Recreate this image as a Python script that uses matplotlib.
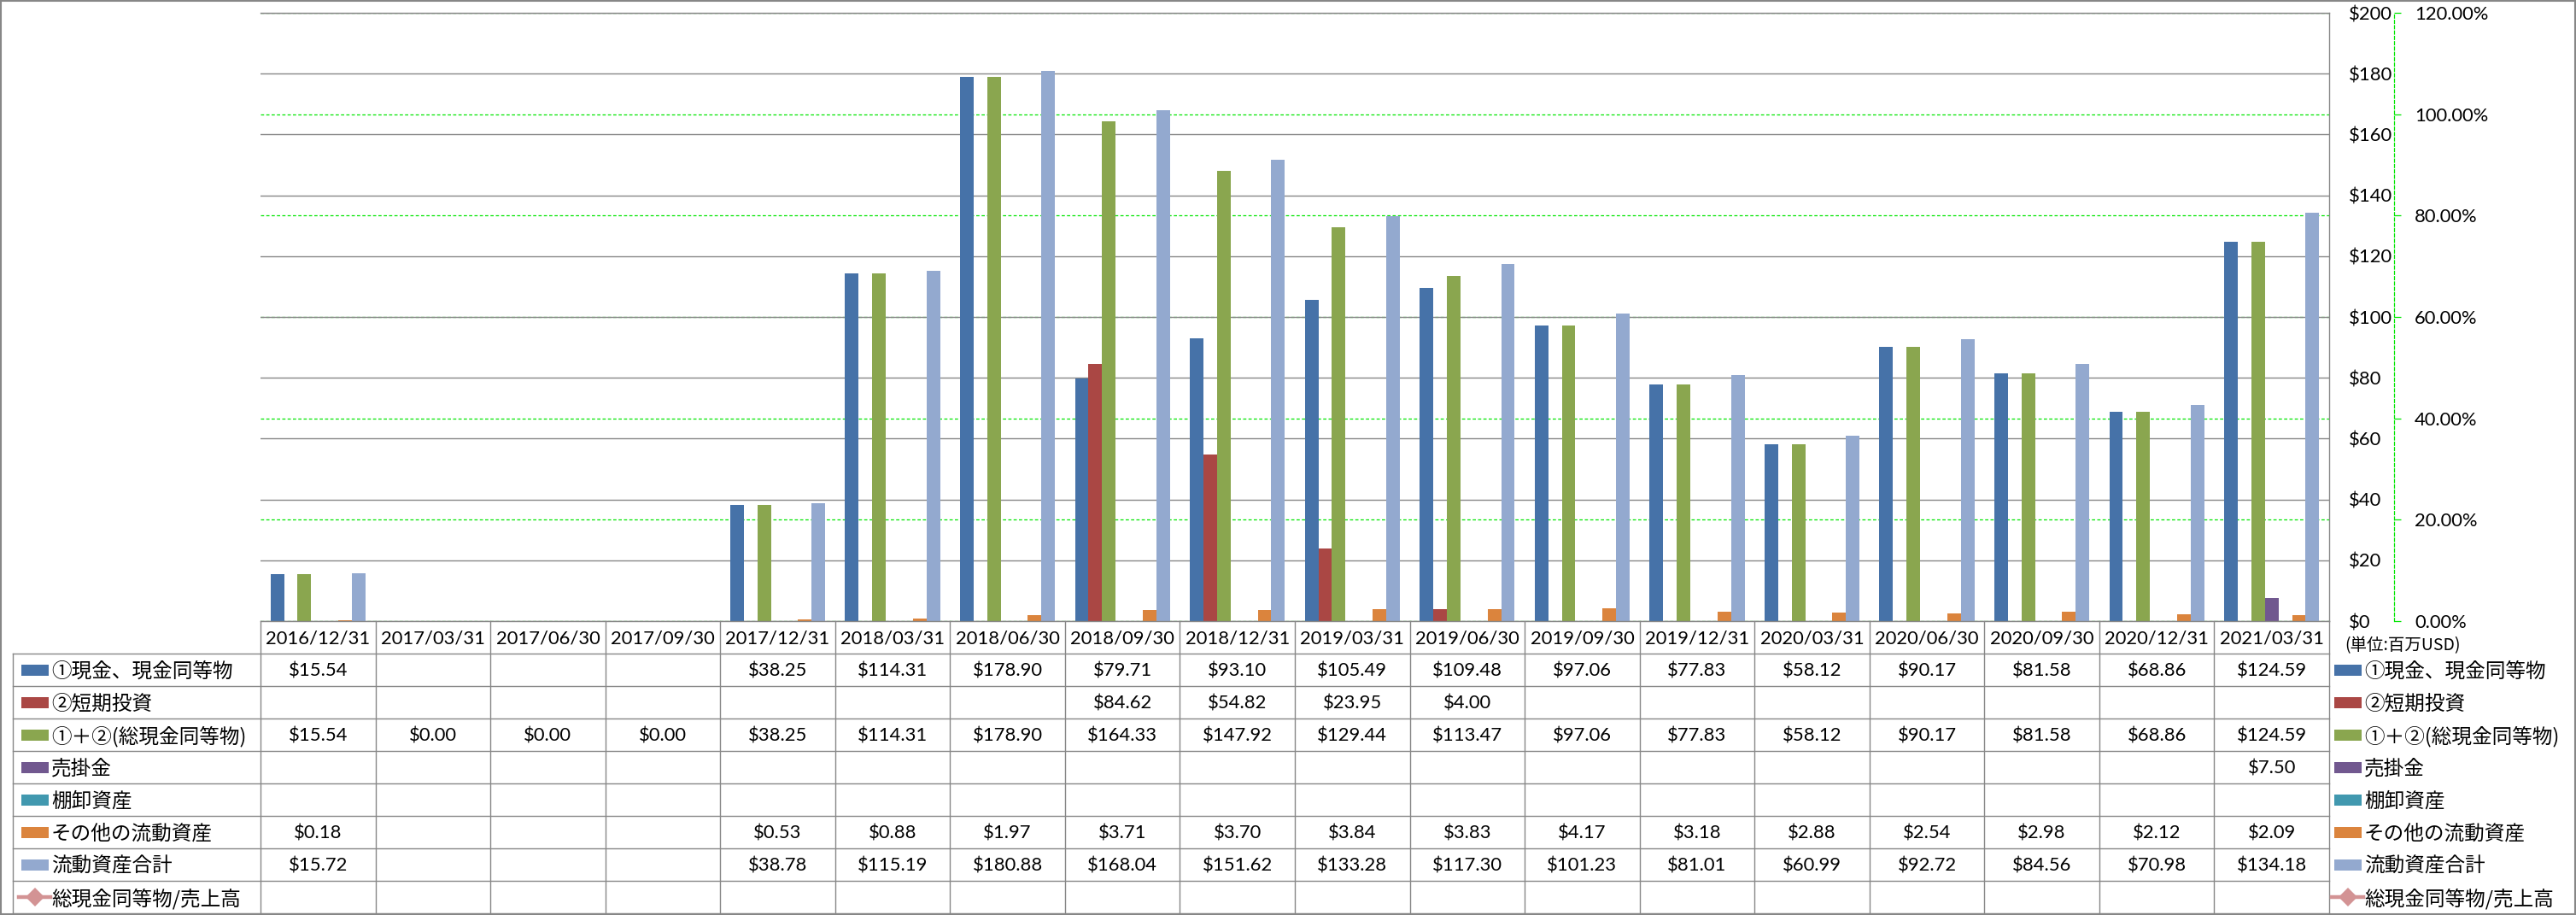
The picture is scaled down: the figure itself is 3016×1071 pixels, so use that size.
import numpy as np
import matplotlib
matplotlib.use("Agg")
import matplotlib.pyplot as plt
from matplotlib import transforms
from matplotlib.patches import Rectangle
from matplotlib.lines import Line2D
from matplotlib.ticker import FuncFormatter

plt.rcParams['font.family'] = ['Noto Sans CJK JP', 'DejaVu Sans']

nan = np.nan
categories = ["2016/12/31", "2017/03/31", "2017/06/30", "2017/09/30", "2017/12/31",
              "2018/03/31", "2018/06/30", "2018/09/30", "2018/12/31", "2019/03/31",
              "2019/06/30", "2019/09/30", "2019/12/31", "2020/03/31", "2020/06/30",
              "2020/09/30", "2020/12/31", "2021/03/31"]
series_names = ["①現金、現金同等物", "②短期投資", "①＋②(総現金同等物)", "売掛金",
                "棚卸資産", "その他の流動資産", "流動資産合計", "総現金同等物/売上高"]
cash = [15.54, nan, nan, nan, 38.25, 114.31, 178.90, 79.71, 93.10, 105.49, 109.48,
        97.06, 77.83, 58.12, 90.17, 81.58, 68.86, 124.59]
short_inv = [nan, nan, nan, nan, nan, nan, nan, 84.62, 54.82, 23.95, 4.00,
             nan, nan, nan, nan, nan, nan, nan]
total_cash = [15.54, 0.00, 0.00, 0.00, 38.25, 114.31, 178.90, 164.33, 147.92, 129.44,
              113.47, 97.06, 77.83, 58.12, 90.17, 81.58, 68.86, 124.59]
receivable = [nan] * 17 + [7.50]
inventory = [nan] * 18
other_current = [0.18, nan, nan, nan, 0.53, 0.88, 1.97, 3.71, 3.70, 3.84, 3.83,
                 4.17, 3.18, 2.88, 2.54, 2.98, 2.12, 2.09]
total_current = [15.72, nan, nan, nan, 38.78, 115.19, 180.88, 168.04, 151.62, 133.28,
                 117.30, 101.23, 81.01, 60.99, 92.72, 84.56, 70.98, 134.18]
cash_to_sales = [nan] * 18

bar_series = [cash, short_inv, total_cash, receivable, inventory, other_current, total_current]
colors = ["#4672A8", "#AA4744", "#8AA64F", "#71588F", "#4198AF", "#DB843D", "#93A9CF"]
line_color = "#D39394"
grid_gray = "#878787"
lime = "#00E600"

W, H = 3016, 1071
fig = plt.figure(figsize=(W / 100, H / 100), dpi=100)
PL, PR, PT, PB = 305, 2727, 15, 727
ROW_TOP = 765
ROW_H = 38
num_font = "Lato"
num_size = 15.8
lab_size = 17

# overlay axes in pixel coordinates
tab = fig.add_axes([0, 0, 1, 1])
tab.set_xlim(0, W)
tab.set_ylim(H, 0)
tab.axis("off")
tab.set_zorder(-1)

ax = fig.add_axes([PL / W, 1 - PB / H, (PR - PL) / W, (PB - PT) / H])
ax2 = ax.twinx()
ax.set_zorder(ax2.get_zorder() + 1)
ax.patch.set_visible(False)

x = np.arange(len(categories))
w = 0.118
for k, (vals, c) in enumerate(zip(bar_series, colors)):
    ax.bar(x + (k - 3) * w, np.array(vals, float), width=w, color=c, zorder=2)
ax2.plot(x, cash_to_sales, marker="D", color=line_color)

ax.set_xlim(-0.5, len(categories) - 0.5)
ax.set_ylim(0, 200)
ax.set_xticks([])
ax.set_yticks(range(0, 201, 20))
ax.yaxis.tick_right()
ax.yaxis.set_major_formatter(FuncFormatter(lambda v, p: f"${v:.0f}"))
ax.tick_params(axis="y", length=0, pad=23 * 0.72, labelsize=num_size, labelfontfamily=num_font)
ax.grid(axis="y", color=grid_gray, lw=1.0)
ax.set_axisbelow(True)
for s in ["left"]:
    ax.spines[s].set_visible(False)
for s in ["top", "bottom", "right"]:
    ax.spines[s].set_color(grid_gray)
    ax.spines[s].set_linewidth(1.0)

ax2.set_ylim(0, 1.2)
ax2.set_yticks(np.arange(0, 1.21, 0.2))
ax2.yaxis.set_major_formatter(FuncFormatter(lambda v, p: f"{v * 100:.2f}%"))
ax2.grid(axis="y", color=lime, lw=0.9, linestyle=(0, (3, 2)))
for s in ["left", "top", "bottom"]:
    ax2.spines[s].set_visible(False)
ax2.spines["right"].set_position(("outward", 76 * 0.72))
ax2.spines["right"].set_color(lime)
ax2.spines["right"].set_linestyle((0, (3, 2)))
ax2.spines["right"].set_linewidth(0.9)
ax2.tick_params(axis="y", direction="out", length=8 * 0.72, color=lime, width=0.9,
                pad=16 * 0.72, labelsize=num_size, labelfontfamily=num_font)

# ---- data table ----
bt = transforms.blended_transform_factory(ax.transData, tab.transData)
n_rows = len(series_names)
row_lines = [ROW_TOP + i * ROW_H for i in range(n_rows + 1)]
table_bottom = row_lines[-1]
for yv in row_lines:
    tab.add_line(Line2D([15, PR], [yv, yv], color=grid_gray, lw=1.0))
tab.add_line(Line2D([15, 15], [ROW_TOP, table_bottom], color=grid_gray, lw=1.0))
for b in np.arange(len(categories) + 1) - 0.5:
    tab.add_line(Line2D([b, b], [PB, table_bottom], color=grid_gray, lw=1.0, transform=bt))

hdr_c = (PB + ROW_TOP) / 2
for i, c in enumerate(categories):
    tab.text(i, hdr_c, c, transform=bt, ha="center", va="center_baseline",
             fontfamily=num_font, fontsize=num_size)

for r, vals in enumerate(bar_series + [cash_to_sales]):
    yc = ROW_TOP + r * ROW_H + ROW_H / 2
    for i, v in enumerate(vals):
        if not np.isnan(v):
            tab.text(i, yc, f"${v:.2f}", transform=bt, ha="center", va="center_baseline",
                     fontfamily=num_font, fontsize=num_size)


def legend_key(x0, yc, r):
    if r < len(colors):
        tab.add_patch(Rectangle((x0, yc - 6.5), 32, 13, color=colors[r], lw=0))
    else:
        tab.add_line(Line2D([x0 - 3, x0 + 34], [yc, yc], color=line_color, lw=3.2,
                            marker=None))
        tab.add_line(Line2D([x0 + 15.5], [yc], color=line_color, marker="D",
                            markersize=11, markeredgewidth=0))


for r, name in enumerate(series_names):
    yc = ROW_TOP + r * ROW_H + ROW_H / 2
    legend_key(25, yc, r)
    tab.text(60, yc, name, ha="left", va="center_baseline", fontsize=lab_size)
    legend_key(2733, yc, r)
    tab.text(2768, yc, name, ha="left", va="center_baseline", fontsize=lab_size)

tab.text(2745, 753, "(単位:百万USD)", ha="left", va="center_baseline", fontsize=14)

tab.add_patch(Rectangle((1, 1), W - 2, H - 2, fill=False, edgecolor=grid_gray, lw=1.5,
                        clip_on=False))

fig.savefig("out.png", dpi=100)
